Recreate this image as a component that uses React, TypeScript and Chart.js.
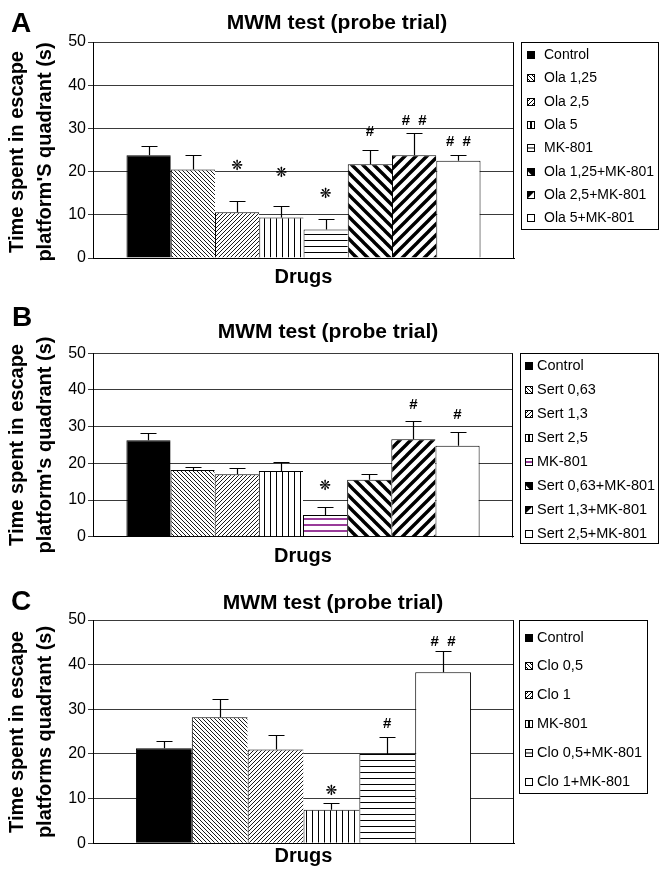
import React, { useEffect, useRef } from 'react';
import { Chart, registerables } from 'chart.js';
Chart.register(...registerables);

const FONT = "'Liberation Sans', Arial, Helvetica, sans-serif";
const W = 659;

// ---------- data ----------
const yTicks = [0, 10, 20, 30, 40, 50];
const xCategory = 'Drugs';
const chartTitle = 'MWM test (probe trial)';

// Panel A (olanzapine)
const drugsA = ['Control', 'Ola 1,25', 'Ola 2,5', 'Ola 5', 'MK-801', 'Ola 1,25+MK-801', 'Ola 2,5+MK-801', 'Ola 5+MK-801'];
const meanA = [23.8, 20.5, 10.6, 9.4, 6.6, 21.7, 23.8, 22.5];
const semA = [2.2, 3.3, 2.5, 2.6, 2.4, 3.4, 5.1, 1.3];
const sigA = ['', '', '❋', '❋', '❋', '#', '#  #', '#  #'];
const sigLevelA = [0, 0, 21.1, 19.7, 14.8, 29.2, 31.8, 26.9];
const yLabelA = ['Time spent in escape', "platform'S quadrant (s)"];

// Panel B (sertindole)
const drugsB = ['Control', 'Sert 0,63', 'Sert 1,3', 'Sert 2,5', 'MK-801', 'Sert 0,63+MK-801', 'Sert 1,3+MK-801', 'Sert 2,5+MK-801'];
const meanB = [26.3, 18.2, 17.0, 17.9, 5.9, 15.5, 26.6, 24.8];
const semB = [2.1, 0.9, 1.8, 2.4, 2.2, 1.5, 4.9, 3.8];
const sigB = ['', '', '', '', '❋', '', '#', '#'];
const sigLevelB = [0, 0, 0, 0, 13.6, 0, 35.9, 33.2];
const yLabelB = ['Time spent in escape', "platform's quadrant (s)"];

// Panel C (clozapine)
const drugsC = ['Control', 'Clo 0,5', 'Clo 1', 'MK-801', 'Clo 0,5+MK-801', 'Clo 1+MK-801'];
const meanC = [21.3, 28.2, 21.0, 7.5, 20.0, 38.3];
const semC = [1.6, 4.0, 3.2, 1.6, 3.9, 4.7];
const sigC = ['', '', '', '❋', '#', '#  #'];
const sigLevelC = [0, 0, 0, 11.7, 26.7, 45.1];
const yLabelC = ['Time spent in escape', 'platforms quadrant (s)'];

// ---------- styling / layout ----------
type Cfg = any;
const PURPLE = '#993b99';
const panels: Cfg[] = [
  {
    letter: 'A', height: 290, drugs: drugsA, mean: meanA, sem: semA, sig: sigA, sigLevel: sigLevelA, yLabel: yLabelA,
    patterns: ['solid', 'fineBack', 'fineFwd', 'vert', 'horiz', 'thickBack', 'thickFwd', 'white'],
    area: { top: 42, bottom: 258, right: 514 }, catPct: 0.841, drugsPb: 1,
    titleX: 337, titleY: 23, letterX: 11, letterY: 31.5, yLabelCY: 152,
    legend: { x: 521, y: 42, w: 137.5, h: 187, first: 55, step: 23.33, sqX: 527, textX: 544, font: 14 },
  },
  {
    letter: 'B', height: 290, drugs: drugsB, mean: meanB, sem: semB, sig: sigB, sigLevel: sigLevelB, yLabel: yLabelB,
    patterns: ['solid', 'fineBack', 'fineFwd', 'vert', 'purpleHoriz', 'thickBack', 'thickFwd', 'white'],
    area: { top: 63.3, bottom: 246.7, right: 513 }, catPct: 0.841, drugsPb: 12,
    titleX: 328, titleY: 42.5, letterX: 12, letterY: 36, yLabelCY: 155,
    legend: { x: 520, y: 63.3, w: 138.5, h: 190, first: 75.5, step: 24, sqX: 525, textX: 537, font: 14.5 },
  },
  {
    letter: 'C', height: 293, drugs: drugsC, mean: meanC, sem: semC, sig: sigC, sigLevel: sigLevelC, yLabel: yLabelC,
    patterns: ['solid', 'fineBack', 'fineFwd', 'vert', 'horiz', 'white'],
    area: { top: 40, bottom: 263.3, right: 514 }, catPct: 0.796, drugsPb: 5,
    titleX: 333, titleY: 23.3, letterX: 11, letterY: 29.5, yLabelCY: 152,
    legend: { x: 519, y: 40, w: 129, h: 173.3, first: 57.5, step: 28.9, sqX: 525, textX: 537, font: 14.5 },
  },
];

function tile(ctx: CanvasRenderingContext2D, size: number, draw: (g: CanvasRenderingContext2D, s: number) => void) {
  const c = document.createElement('canvas');
  c.width = size; c.height = size;
  const g = c.getContext('2d')!;
  g.fillStyle = '#fff';
  g.fillRect(0, 0, size, size);
  draw(g, size);
  return ctx.createPattern(c, 'repeat')!;
}

function diag(g: CanvasRenderingContext2D, s: number, lw: number, back: boolean) {
  g.strokeStyle = '#000';
  g.lineWidth = lw;
  g.beginPath();
  for (let k = -1; k <= 1; k++) {
    if (back) {
      g.moveTo(-1 + k * s, -1); g.lineTo(s + 1 + k * s, s + 1);
    } else {
      g.moveTo(-1 + k * s, s + 1); g.lineTo(s + 1 + k * s, -1);
    }
  }
  g.stroke();
}

function makePatterns(ctx: CanvasRenderingContext2D): Record<string, any> {
  return {
    solid: '#000',
    white: '#fff',
    fineBack: tile(ctx, 4, (g, s) => diag(g, s, 0.9, true)),
    fineFwd: tile(ctx, 4, (g, s) => diag(g, s, 0.9, false)),
    thickBack: tile(ctx, 11, (g, s) => diag(g, s, 3.4, true)),
    thickFwd: tile(ctx, 11, (g, s) => diag(g, s, 3.4, false)),
    vert: tile(ctx, 6, (g, s) => { g.fillStyle = '#000'; g.fillRect(0, 0, 1, s); }),
    horiz: tile(ctx, 6, (g, s) => { g.fillStyle = '#000'; g.fillRect(0, 0, s, 1); }),
    purpleHoriz: tile(ctx, 6, (g, s) => { g.fillStyle = PURPLE; g.fillRect(0, 0, s, 2); }),
  };
}

// small legend swatch, mimicking the pattern in an 8x8 box
function drawIcon(ctx: CanvasRenderingContext2D, kind: string, x: number, y: number) {
  const s = 8;
  ctx.save();
  ctx.fillStyle = kind === 'solid' ? '#000' : '#fff';
  ctx.fillRect(x, y, s, s);
  ctx.beginPath();
  ctx.rect(x, y, s, s);
  ctx.clip();
  ctx.lineWidth = 1;
  ctx.strokeStyle = '#000';
  ctx.beginPath();
  if (kind === 'fineBack') {
    ctx.moveTo(x, y); ctx.lineTo(x + s, y + s);
    ctx.moveTo(x, y + 4); ctx.lineTo(x + 4, y + s);
    ctx.moveTo(x + 4, y); ctx.lineTo(x + s, y + 4);
    ctx.stroke();
  } else if (kind === 'fineFwd') {
    ctx.moveTo(x, y + s); ctx.lineTo(x + s, y);
    ctx.moveTo(x, y + 4); ctx.lineTo(x + 4, y);
    ctx.moveTo(x + 4, y + s); ctx.lineTo(x + s, y + 4);
    ctx.stroke();
  } else if (kind === 'vert') {
    ctx.fillStyle = '#000';
    ctx.fillRect(x + 3, y, 2, s);
  } else if (kind === 'horiz') {
    ctx.fillStyle = '#000';
    ctx.fillRect(x, y + 3.5, s, 1);
  } else if (kind === 'purpleHoriz') {
    ctx.fillStyle = PURPLE;
    ctx.fillRect(x, y + 3, s, 2);
  } else if (kind === 'thickBack') {
    ctx.lineWidth = 3.5;
    ctx.moveTo(x - 1, y - 1); ctx.lineTo(x + s + 1, y + s + 1);
    ctx.stroke();
    ctx.fillStyle = '#000';
    ctx.beginPath();
    ctx.moveTo(x, y); ctx.lineTo(x + s, y); ctx.lineTo(x + s, y + s);
    ctx.closePath();
    ctx.fill();
  } else if (kind === 'thickFwd') {
    ctx.fillStyle = '#000';
    ctx.beginPath();
    ctx.moveTo(x, y + s); ctx.lineTo(x + s, y); ctx.lineTo(x, y);
    ctx.closePath();
    ctx.fill();
  }
  ctx.restore();
  ctx.strokeStyle = '#000';
  ctx.lineWidth = 1;
  ctx.strokeRect(x + 0.5, y + 0.5, s - 1, s - 1);
}

function decor(cfg: Cfg) {
  return {
    id: 'decor' + cfg.letter,
    afterDatasetsDraw(chart: any) {
      const { ctx } = chart;
      const y = chart.scales.y;
      ctx.save();
      ctx.strokeStyle = '#000';
      ctx.lineWidth = 1.2;
      cfg.drugs.forEach((_: string, i: number) => {
        const el = chart.getDatasetMeta(i).data[0];
        const x = Math.round(el.x) + 0.5;
        const yt = y.getPixelForValue(cfg.mean[i]);
        const ye = Math.round(y.getPixelForValue(cfg.mean[i] + cfg.sem[i])) + 0.5;
        ctx.beginPath();
        ctx.moveTo(x, yt);
        ctx.lineTo(x, ye);
        ctx.moveTo(x - 8, ye);
        ctx.lineTo(x + 8, ye);
        ctx.stroke();
      });
      ctx.fillStyle = '#000';
      ctx.textAlign = 'center';
      ctx.textBaseline = 'middle';
      cfg.drugs.forEach((_: string, i: number) => {
        const t = cfg.sig[i];
        if (!t) return;
        const el = chart.getDatasetMeta(i).data[0];
        ctx.font = t.includes('#') ? `bold 15px ${FONT}` : `bold 14px 'DejaVu Sans', sans-serif`;
        ctx.fillText(t, el.x, y.getPixelForValue(cfg.sigLevel[i]));
      });
      ctx.restore();
    },
    afterDraw(chart: any) {
      const { ctx, chartArea } = chart;
      ctx.save();
      // right border of plot area
      ctx.strokeStyle = '#000';
      ctx.lineWidth = 1;
      ctx.beginPath();
      const rx = Math.round(chartArea.right) - 0.5;
      ctx.moveTo(rx, Math.round(chartArea.top) + 0.5);
      ctx.lineTo(rx, Math.round(chartArea.bottom) + 0.5);
      ctx.stroke();

      // legend
      const L = cfg.legend;
      ctx.strokeRect(Math.round(L.x) + 0.5, Math.round(L.y) + 0.5, Math.round(L.w) - 1, Math.round(L.h));
      ctx.textAlign = 'left';
      ctx.textBaseline = 'middle';
      ctx.font = `${L.font}px ${FONT}`;
      chart.data.datasets.forEach((ds: any, i: number) => {
        const cy = L.first + i * L.step;
        const sy = Math.round(cy - 4);
        drawIcon(ctx, cfg.patterns[i], L.sqX, sy);
        ctx.fillStyle = '#000';
        ctx.textAlign = 'left';
        ctx.textBaseline = 'middle';
        ctx.font = `${L.font}px ${FONT}`;
        ctx.fillText(ds.label, L.textX, cy);
      });

      // chart title
      ctx.textAlign = 'center';
      ctx.textBaseline = 'middle';
      ctx.font = `bold 21px ${FONT}`;
      ctx.fillText(chartTitle, cfg.titleX, cfg.titleY);

      // y axis label (two lines, rotated)
      ctx.font = `bold 20px ${FONT}`;
      ctx.save();
      ctx.translate(17.5, cfg.yLabelCY);
      ctx.rotate(-Math.PI / 2);
      ctx.fillText(cfg.yLabel[0], 0, 0);
      ctx.fillText(cfg.yLabel[1], 0, 28);
      ctx.restore();

      // panel letter
      ctx.textAlign = 'left';
      ctx.textBaseline = 'alphabetic';
      ctx.font = `bold 28px ${FONT}`;
      ctx.fillText(cfg.letter, cfg.letterX, cfg.letterY);
      ctx.restore();
    },
  };
}

function Panel({ cfg }: { cfg: Cfg }) {
  const ref = useRef<HTMLCanvasElement>(null);
  useEffect(() => {
    const canvas = ref.current!;
    const ctx = canvas.getContext('2d')!;
    const pats = makePatterns(ctx);
    const n = cfg.drugs.length;
    const datasets = cfg.drugs.map((d: string, i: number) => ({
      label: d,
      data: [cfg.mean[i]],
      backgroundColor: pats[cfg.patterns[i]],
      borderColor: '#000',
      borderWidth: { top: 1, left: 1, right: i === n - 1 ? 1 : 0, bottom: 0 },
      categoryPercentage: cfg.catPct,
      barPercentage: 1,
    }));
    const chart = new Chart(ctx, {
      type: 'bar',
      data: { labels: [xCategory], datasets },
      options: {
        responsive: false,
        animation: false,
        events: [],
        layout: { padding: { top: cfg.area.top, left: 0, right: W - cfg.area.right, bottom: 0 } },
        plugins: { legend: { display: false }, tooltip: { enabled: false }, title: { display: false } },
        scales: {
          x: {
            ticks: { display: false },
            grid: { display: false, drawTicks: false },
            border: { display: true, color: '#000', width: 1 },
            title: {
              display: true, text: xCategory, color: '#000',
              font: { family: FONT, size: 20, weight: 'bold', lineHeight: 1.2 },
              padding: { top: 0, bottom: cfg.drugsPb },
            },
            afterFit: (s: any) => { s.height = cfg.height - cfg.area.bottom; },
          },
          y: {
            min: 0,
            max: 50,
            afterBuildTicks: (s: any) => { s.ticks = yTicks.map((v) => ({ value: v })); },
            ticks: { font: { family: FONT, size: 16 }, color: '#000', padding: 2 },
            grid: { color: '#3a3a3a', tickLength: 5, lineWidth: 1 },
            border: { display: true, color: '#000', width: 1 },
            afterFit: (s: any) => { s.width = 93; },
          },
        },
      } as any,
      plugins: [decor(cfg)],
    });
    return () => chart.destroy();
  }, []);
  return <canvas ref={ref} width={W} height={cfg.height} style={{ display: 'block' }} />;
}

export default function App() {
  return (
    <div style={{ position: 'absolute', left: 0, top: 0, width: W, height: 873, background: '#fff' }}>
      {panels.map((p) => <Panel key={p.letter} cfg={p} />)}
    </div>
  );
}
